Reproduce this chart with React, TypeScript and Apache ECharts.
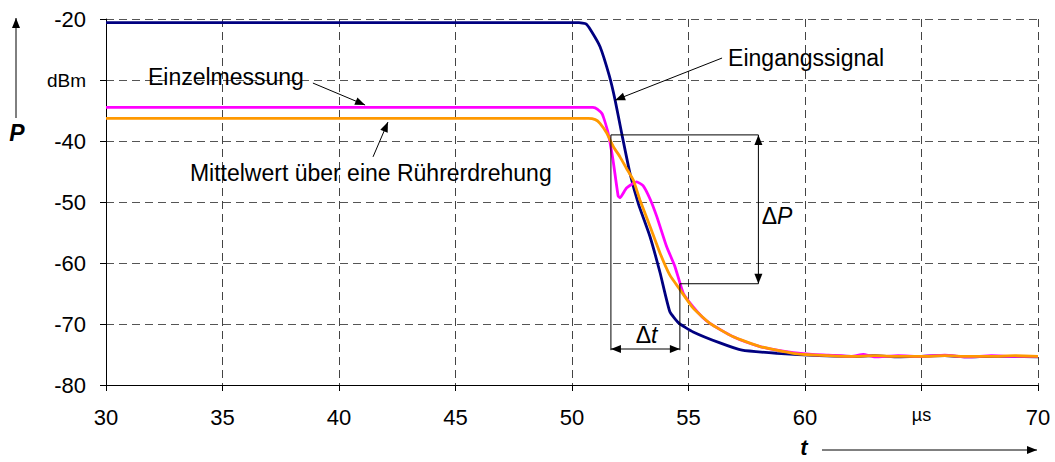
import React, { useEffect, useRef } from "react";
import * as echarts from "echarts";

// Eingangssignal (blue)
const tBlue = [30, 50.3, 50.6, 50.8, 51.2, 51.6, 51.85, 52.13, 52.5, 52.85, 53.35, 53.78, 54.2, 54.6, 55.2, 56.35, 57.3, 58.8, 60.6, 62, 63, 64, 65, 66, 67, 68, 69, 70];
const pBlue = [-20.6, -20.6, -20.8, -21.8, -24.5, -29.3, -33.3, -38.7, -45.5, -50.3, -55.7, -61.6, -68.0, -69.9, -71.3, -73.1, -74.3, -74.8, -75.2, -75.3, -75.2, -75.4, -75.3, -75.2, -75.4, -75.3, -75.3, -75.4];

// Einzelmessung (magenta)
const tMag = [30, 50.9, 51.1, 51.3, 51.55, 51.76, 51.98, 52.06, 52.34, 52.77, 53.05, 53.35, 53.64, 54.06, 54.42, 54.78, 55.2, 55.6, 55.92, 56.4, 56.92, 57.5, 58.07, 58.8, 59.5, 60.3, 61, 62, 62.5, 63, 64, 65, 66, 67, 68, 69, 70];
const pMag = [-34.5, -34.5, -34.8, -35.6, -38.7, -43.1, -49.0, -49.3, -47.7, -46.7, -47.3, -49.5, -52.4, -57.3, -60.6, -65.0, -67.2, -68.9, -69.9, -71.0, -72.1, -73.0, -73.7, -74.3, -74.7, -75.0, -75.1, -75.3, -75.0, -75.4, -75.2, -75.3, -75.1, -75.4, -75.2, -75.3, -75.3];

// Mittelwert über eine Rührerdrehung (orange)
const tOra = [30, 50.7, 51.0, 51.2, 51.49, 51.77, 52.06, 52.34, 52.63, 52.92, 53.35, 53.78, 54.2, 54.64, 55.2, 55.92, 56.92, 58.07, 59.5, 60.5, 62, 63, 64, 65, 66, 67, 68, 69, 70];
const pOra = [-36.3, -36.3, -36.5, -37.1, -38.7, -40.9, -42.6, -44.5, -46.4, -49.7, -54.0, -58.4, -62.0, -64.4, -67.4, -69.9, -72.1, -73.7, -74.8, -75.1, -75.3, -75.2, -75.3, -75.3, -75.2, -75.3, -75.3, -75.2, -75.3];

const xTicks = [30, 35, 40, 45, 50, 55, 60, 65, 70];
const xUnitTick = 65;
const yUnitTick = -30;

const FONT = '"Liberation Sans", Arial, sans-serif';
const TXT = 23;

function zip(a: number[], b: number[]) {
  return a.map((v, i) => [v, b[i]]);
}

export default function App() {
  const ref = useRef<HTMLDivElement>(null);
  useEffect(() => {
    const chart = echarts.init(ref.current!, null, { renderer: "svg" });
    chart.setOption({
      animation: false,
      grid: { left: 106, right: 17, top: 19, bottom: 77 },
      xAxis: {
        type: "value",
        min: xTicks[0],
        max: xTicks[xTicks.length - 1],
        interval: 5,
        axisLine: { lineStyle: { color: "#000", width: 1 } },
        axisTick: { length: 6, lineStyle: { color: "#000" } },
        axisLabel: {
          margin: 21,
          fontSize: 22,
          fontFamily: FONT,
          color: "#000",
          formatter: (v: number) => (v === xUnitTick ? "{u|µs}" : String(v)),
          rich: { u: { fontSize: 18, fontFamily: FONT, color: "#000", padding: [0, 0, 6, 0] } },
        },
        splitLine: { show: true, lineStyle: { color: "#444", type: [8, 5], width: 1 } },
      },
      yAxis: {
        type: "value",
        min: -80,
        max: -20,
        interval: 10,
        axisLine: { show: true, lineStyle: { color: "#000", width: 1 } },
        axisTick: { show: true, length: 6, lineStyle: { color: "#000" } },
        axisLabel: {
          margin: 20,
          fontSize: 22,
          fontFamily: FONT,
          color: "#000",
          formatter: (v: number) => (v === yUnitTick ? "{u|dBm}" : String(v)),
          rich: { u: { fontSize: 19, fontFamily: FONT, color: "#000" } },
        },
        splitLine: { show: true, lineStyle: { color: "#555", type: [8, 5], width: 1 } },
      },
      series: [
        { type: "line", data: zip(tBlue, pBlue), showSymbol: false, smooth: 0.15, lineStyle: { color: "#000080", width: 2.8 }, z: 3 },
        { type: "line", data: zip(tMag, pMag), showSymbol: false, smooth: 0.15, lineStyle: { color: "#FF00FF", width: 2.8 }, z: 4 },
        { type: "line", data: zip(tOra, pOra), showSymbol: false, smooth: 0.15, lineStyle: { color: "#FF9900", width: 2.8 }, z: 5 },
      ],
    });

    const px = (x: number, y: number) => chart.convertToPixel({ gridIndex: 0 } as any, [x, y]) as number[];
    const els: any[] = [];
    const line = (a: number[], b: number[]) =>
      els.push({ type: "line", shape: { x1: a[0], y1: a[1], x2: b[0], y2: b[1] }, style: { stroke: "#000", lineWidth: 1 }, z: 100 });
    const head = (from: number[], to: number[], len = 10, w = 4) => {
      const dx = to[0] - from[0], dy = to[1] - from[1];
      const L = Math.hypot(dx, dy);
      const ux = dx / L, uy = dy / L;
      const bx = to[0] - ux * len, by = to[1] - uy * len;
      els.push({
        type: "polygon",
        shape: { points: [[to[0], to[1]], [bx - uy * w, by + ux * w], [bx + uy * w, by - ux * w]] },
        style: { fill: "#000" },
        z: 100,
      });
    };
    const arrow = (a: number[], b: number[], both = false) => {
      line(a, b);
      head(a, b);
      if (both) head(b, a);
    };
    const text = (t: string, p: number[], opts: any = {}) =>
      els.push({
        type: "text",
        x: p[0],
        y: p[1],
        z: 100,
        style: { text: t, fontSize: TXT, fontFamily: FONT, fill: "#000", align: "left", verticalAlign: "middle", ...opts },
      });
    const deltaText = (sym: string, p: number[]) =>
      els.push({
        type: "text", z: 100, x: p[0], y: p[1],
        style: {
          text: "{a|Δ}{b|" + sym + "}", align: "center", verticalAlign: "middle",
          rich: { a: { fontSize: TXT, fontFamily: FONT, fill: "#000" }, b: { fontSize: TXT, fontFamily: FONT, fontStyle: "italic", fill: "#000" } },
        },
      });

    // ΔP / Δt bracket
    const xL = 51.67, xR = 54.63, xP = 58.0;
    const yTop = -39.0, yBot = -63.4, yDt = -74.1, yEnd = -74.3;
    line(px(xL, yTop), px(xP, yTop));
    line(px(xR, yBot), px(xP, yBot));
    arrow(px(xP, yBot), px(xP, yTop), true);
    line(px(xL, yTop), px(xL, yEnd));
    line(px(xR, yBot), px(xR, yEnd));
    arrow(px(xL, yDt), px(xR, yDt), true);
    deltaText("t", px(53.2, -71.8));
    deltaText("P", px(58.8, -52.3));

    // Labels with arrows
    text("Eingangssignal", px(56.7, -26.4));
    arrow(px(56.44, -26.4), px(51.85, -33.3));
    text("Einzelmessung", px(31.8, -29.5));
    arrow(px(38.88, -30.5), px(41.12, -34.1));
    text("Mittelwert über eine Rührerdrehung", px(33.6, -45.2));
    arrow(px(41.46, -42.6), px(42.1, -36.9));

    // Axis titles
    arrow([16, 118], [16, 18]);
    els.push({ type: "text", x: 17, y: 133, z: 100, style: { text: "P", fontSize: TXT, fontFamily: FONT, fontWeight: "bold", fontStyle: "italic", fill: "#000", align: "center", verticalAlign: "middle" } });
    arrow([822, 450], [1037, 450]);
    els.push({ type: "text", x: 804, y: 447, z: 100, style: { text: "t", fontSize: 22, fontFamily: FONT, fontWeight: "bold", fontStyle: "italic", fill: "#000", align: "center", verticalAlign: "middle" } });

    chart.setOption({ graphic: els });
    return () => chart.dispose();
  }, []);
  return <div ref={ref} style={{ position: "absolute", left: 0, top: 0, width: 1055, height: 462 }} />;
}
